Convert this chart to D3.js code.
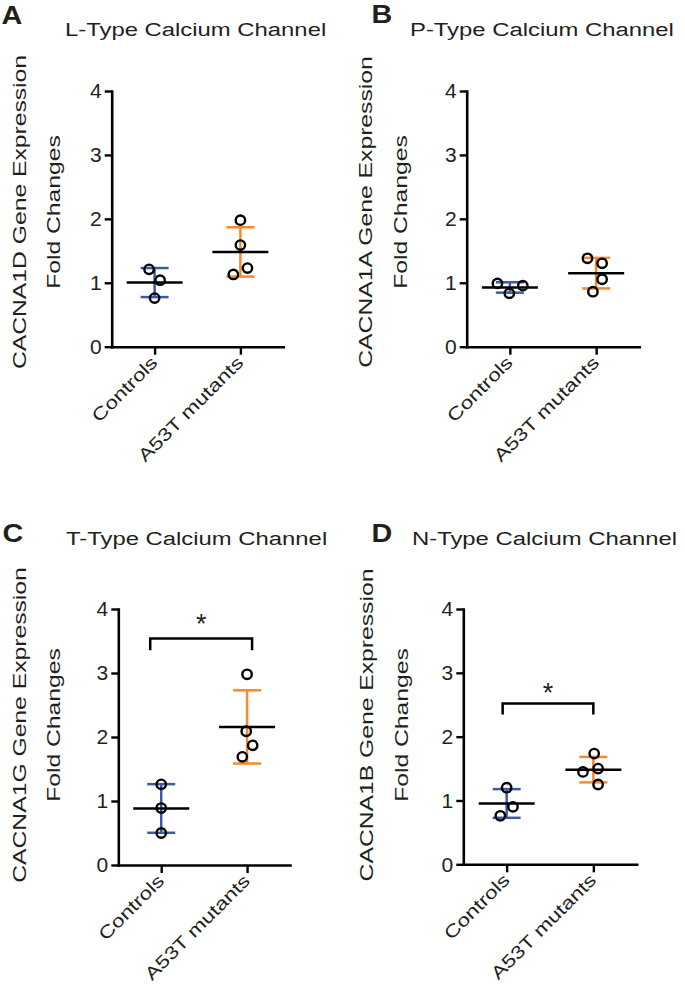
<!DOCTYPE html>
<html><head><meta charset="utf-8">
<script src="https://cdn.jsdelivr.net/npm/d3@7"></script>
<style>
body{margin:0;background:#fff}
text{font-family:"Liberation Sans",Arial,Helvetica,sans-serif;fill:#231f20}
</style>
</head><body><svg id="c" width="685" height="990"></svg>
<script>
// ---------------- data ----------------
const categories = ["Controls", "A53T mutants"];
const panelLetters = ["A", "B", "C", "D"];
const panelTitles = ["L-Type Calcium Channel", "P-Type Calcium Channel", "T-Type Calcium Channel", "N-Type Calcium Channel"];
const geneNames = ["CACNA1D", "CACNA1A", "CACNA1G", "CACNA1B"];
const yTicks = [0, 1, 2, 3, 4];
const yDomain = [0, 4];
const controlsA = [1.04, 1.21, 0.76];
const mutantsA = [1.98, 1.59, 1.23, 1.13];
const controlsB = [0.835, 0.99, 0.955];
const mutantsB = [1.305, 1.383, 1.055, 0.86];
const controlsC = [1.26, 0.89, 0.50];
const mutantsC = [2.98, 1.87, 2.09, 1.69];
const controlsD = [1.20, 0.90, 0.76];
const mutantsD = [1.50, 1.447, 1.735, 1.25];
const bracketLevel = [null, null, 3.54, 2.52];   // value where significance bracket sits
const bracketLabel = [null, null, "*", "*"];

const panelData = [
  [controlsA, mutantsA], [controlsB, mutantsB], [controlsC, mutantsC], [controlsD, mutantsD]
];

// ---------------- layout / style ----------------
const groupColors = ["#3b5ba6", "#f7892f"];
const layout = [
  {x0:111.7, x1:283.3, yTop:91,  yBot:346.7, lx:1.5,   ly:23.5,  tx:65,  ty:36,  l1:25.5,  l2:60,  lyc:212, br:[-11,5],  drop:11.7, star:5},
  {x0:466.7, x1:639.3, yTop:91,  yBot:346.7, lx:371.5, ly:22.8,  tx:410, ty:36,  l1:372,   l2:406.5, lyc:212, br:[-4,0],   drop:11,   star:5},
  {x0:118.3, x1:290,   yTop:609, yBot:865,   lx:2.5,   ly:542,   tx:66,  ty:545, l1:25.5,  l2:60,  lyc:725, br:[-11,5],  drop:11.7, star:5},
  {x0:463.3, x1:636.7, yTop:609, yBot:864.3, lx:371.5, ly:542,   tx:412, ty:545, l1:373,   l2:407.5, lyc:725, br:[-4,0],   drop:11,   star:1}
];

const svg = d3.select("#c");

function stdev(a){ const m=d3.mean(a); return Math.sqrt(d3.sum(a,v=>(v-m)*(v-m))/(a.length-1)); }

function swarm(vals, y, d){
  const placed = [];
  vals.forEach((v,i)=>{
    const py = y(v);
    const cands = [0];
    placed.forEach(p=>{
      const dy = Math.abs(p.py-py);
      if (dy < d){ const dx = Math.sqrt(d*d-dy*dy); cands.push(p.dx+dx, p.dx-dx); }
    });
    cands.sort((a,b)=> (Math.abs(a)-Math.abs(b)) || (a-b));
    const ok = c => placed.every(p=>{ const dy=p.py-py, dx=p.dx-c; return dx*dx+dy*dy >= d*d-0.01; });
    const dx = cands.find(ok);
    placed.push({v, py, dx});
  });
  const parent = placed.map((_,i)=>i);
  const find = i => parent[i]===i ? i : (parent[i]=find(parent[i]));
  for (let i=0;i<placed.length;i++) for (let j=i+1;j<placed.length;j++){
    const a=placed[i], b=placed[j];
    if (Math.hypot(a.dx-b.dx, a.py-b.py) <= d+0.5) parent[find(i)] = find(j);
  }
  const groups = d3.group(placed.map((p,i)=>({p, g:find(i)})), o=>o.g);
  groups.forEach(list=>{ const m=d3.mean(list,o=>o.p.dx); list.forEach(o=>o.p.dx-=m); });
  return placed;
}

function stretchedText(parent, x, y, rot, sx, str, size, anchor, weight){
  const g = parent.append("g").attr("transform", `translate(${x},${y}) rotate(${rot}) scale(${sx},1)`);
  g.append("text").attr("text-anchor", anchor).attr("font-size", size)
    .attr("font-weight", weight||"normal").text(str);
  return g;
}

panelData.forEach((groups, k)=>{
  const L = layout[k];
  const g = svg.append("g");
  const y = d3.scaleLinear().domain(yDomain).range([L.yBot, L.yTop]);
  const x = d3.scalePoint().domain(categories).range([L.x0, L.x1]).padding(0.5);

  // letter and title
  stretchedText(g, L.lx, L.ly, 0, 1.15, panelLetters[k], 25, "start", "bold");
  stretchedText(g, L.tx, L.ty, 0, 1.27, panelTitles[k], 18.8, "start");

  // y label (two lines)
  stretchedText(g, L.l1, L.lyc, -90, 1.35, geneNames[k] + " Gene Expression", 18.3, "middle");
  stretchedText(g, L.l2, L.lyc, -90, 1.35, "Fold Changes", 18.3, "middle");

  // axes
  const ya = g.append("g").attr("transform", `translate(${L.x0},0)`)
    .call(d3.axisLeft(y).tickValues(yTicks).tickFormat(d3.format("d")).tickSize(7).tickSizeOuter(0).tickPadding(3));
  const xa = g.append("g").attr("transform", `translate(0,${L.yBot})`)
    .call(d3.axisBottom(x).tickSize(8).tickSizeOuter(0).tickFormat(""));
  [ya, xa].forEach(a=>{
    a.select(".domain").attr("stroke","#000").attr("stroke-width",2.6).attr("stroke-linecap","square");
    a.selectAll(".tick line").attr("stroke","#000").attr("stroke-width",2.4);
  });
  ya.selectAll(".tick text").attr("font-size",21).attr("font-family",'"Liberation Sans",Arial,sans-serif').attr("fill","#231f20");

  // rotated category labels
  categories.forEach(c=>{
    stretchedText(g, x(c)+4, L.yBot+17, -45, 1.27, c, 17.8, "end");
  });

  // groups
  groups.forEach((vals, gi)=>{
    const cx = x(categories[gi]);
    const m = d3.mean(vals), s = stdev(vals);
    const col = groupColors[gi];
    // SD error bar
    g.append("line").attr("x1",cx).attr("x2",cx).attr("y1",y(m-s)).attr("y2",y(m+s))
      .attr("stroke",col).attr("stroke-width",2.5);
    [m-s, m+s].forEach(v=>{
      g.append("line").attr("x1",cx-14).attr("x2",cx+14).attr("y1",y(v)).attr("y2",y(v))
        .attr("stroke",col).attr("stroke-width",2.5);
    });
    // mean line
    g.append("line").attr("x1",cx-28).attr("x2",cx+28).attr("y1",y(m)).attr("y2",y(m))
      .attr("stroke","#000").attr("stroke-width",2.5);
    // points
    const pts = swarm(vals, y, 15.5);
    g.selectAll(null).data(pts).join("circle")
      .attr("cx",p=>cx+p.dx).attr("cy",p=>p.py).attr("r",4.7)
      .attr("fill","none").attr("stroke","#000").attr("stroke-width",2.4);
  });

  // significance bracket
  if (bracketLevel[k] != null){
    const xl = x(categories[0]) + L.br[0], xr = x(categories[1]) + L.br[1];
    const by = y(bracketLevel[k]);
    g.append("path").attr("d", `M${xl},${by+L.drop}V${by}H${xr}V${by+L.drop}`)
      .attr("fill","none").attr("stroke","#000").attr("stroke-width",2.5);
    g.append("text").attr("x",(xl+xr)/2).attr("y",by - L.star).attr("text-anchor","middle")
      .attr("font-size",27).text(bracketLabel[k]);
  }
});
</script>
</body></html>
